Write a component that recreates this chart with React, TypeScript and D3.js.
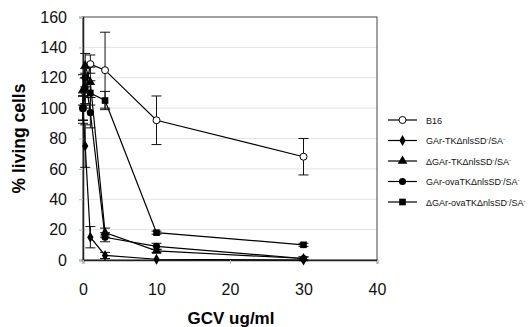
import React, { useEffect, useRef } from 'react'
import * as d3 from 'd3'

// dose of GCV (ug/ml)
const doses = [0, 0.3, 1, 3, 10, 30]

const seriesNames = ['B16', 'GAr-TK', 'ΔGAr-TK', 'GAr-ovaTK', 'ΔGAr-ovaTK']
const symbols = ['openCircle', 'diamond', 'triangle', 'circle', 'square']

const b16 = [100, 110, 129, 125, 92, 68]
const b16Err = [8, 10, 6, 25, 16, 12]
const garTk = [100, 75, 15, 3, 0.5, 0]
const garTkErr = [10, 14, 7, 2, 0, 0]
const dGarTk = [112, 128, 117, 18, 6, 1]
const dGarTkErr = [10, 8, 10, 3, 1, 1]
const garOva = [100, 120, 97, 15, 9, 1]
const garOvaErr = [8, 6, 10, 3, 2, 1]
const dGarOva = [100, 113, 110, 105, 18, 10]
const dGarOvaErr = [8, 10, 8, 6, 1, 1]

const yTicks = [0, 20, 40, 60, 80, 100, 120, 140, 160]
const xTicks = [0, 10, 20, 30, 40]

export default function App() {
  const ref = useRef<SVGSVGElement>(null)

  useEffect(() => {
    const width = 531
    const height = 327
    const margin = { top: 17, right: 154, bottom: 67, left: 83 }
    const svg = d3.select(ref.current)
    svg.selectAll('*').remove()

    const x = d3.scaleLinear().domain([0, 40]).range([margin.left, width - margin.right])
    const y = d3.scaleLinear().domain([0, 160]).range([height - margin.bottom, margin.top])
    const font = 'Liberation Sans, Arial, sans-serif'

    // gridlines
    svg.append('g').selectAll('line').data(yTicks.slice(1, -1)).join('line')
      .attr('x1', x(0)).attr('x2', x(40))
      .attr('y1', d => y(d)).attr('y2', d => y(d))
      .attr('stroke', '#e2e2e2').attr('stroke-width', 1)

    // plot border
    svg.append('rect')
      .attr('x', x(0)).attr('y', y(160))
      .attr('width', x(40) - x(0)).attr('height', y(0) - y(160))
      .attr('fill', 'none').attr('stroke', '#444').attr('stroke-width', 1)

    // axes
    const yAxis = svg.append('g').attr('transform', `translate(${x(0)},0)`)
      .call(d3.axisLeft(y).tickValues(yTicks).tickSize(4).tickPadding(12))
    const xAxis = svg.append('g').attr('transform', `translate(0,${y(0)})`)
      .call(d3.axisBottom(x).tickValues(xTicks).tickSize(4).tickPadding(20))
    for (const ax of [yAxis, xAxis]) {
      ax.select('.domain').attr('stroke', '#222').attr('stroke-width', 1.5)
      ax.selectAll('.tick line').attr('stroke', '#bbb')
      ax.selectAll('text').attr('font-family', font).attr('font-size', 16).attr('fill', '#111')
    }

    svg.append('text')
      .attr('transform', `translate(25,${(y(0) + y(160)) / 2}) rotate(-90)`)
      .attr('text-anchor', 'middle')
      .attr('font-family', font).attr('font-size', 17.5).attr('font-weight', 'bold')
      .text('% living cells')
    svg.append('text')
      .attr('x', (x(0) + x(40)) / 2 + 1).attr('y', 324)
      .attr('text-anchor', 'middle')
      .attr('font-family', font).attr('font-size', 17).attr('font-weight', 'bold')
      .text('GCV ug/ml')

    const data = [
      { vals: b16, errs: b16Err },
      { vals: garTk, errs: garTkErr },
      { vals: dGarTk, errs: dGarTkErr },
      { vals: garOva, errs: garOvaErr },
      { vals: dGarOva, errs: dGarOvaErr },
    ]

    const drawSymbol = (g: any, kind: string, cx: number, cy: number) => {
      if (kind === 'openCircle') {
        g.append('circle').attr('cx', cx).attr('cy', cy).attr('r', 3.5)
          .attr('fill', 'white').attr('stroke', 'black').attr('stroke-width', 1)
      } else {
        const type = kind === 'diamond' ? d3.symbolDiamond : kind === 'triangle' ? d3.symbolTriangle
          : kind === 'square' ? d3.symbolSquare : d3.symbolCircle
        const size = kind === 'diamond' ? 34 : kind === 'triangle' ? 40 : kind === 'square' ? 44 : 40
        g.append('path').attr('d', d3.symbol(type, size)())
          .attr('transform', `translate(${cx},${cy})`).attr('fill', 'black')
      }
    }

    const line = d3.line<number>().x((_, i) => x(doses[i])).y(d => y(d))

    data.forEach((s, si) => {
      const g = svg.append('g')
      s.vals.forEach((v, i) => {
        const e = s.errs[i]
        if (e <= 0) return
        const cx = x(doses[i])
        g.append('line').attr('x1', cx).attr('x2', cx).attr('y1', y(v - e)).attr('y2', y(v + e))
          .attr('stroke', '#111').attr('stroke-width', 1)
        for (const yy of [v - e, v + e]) {
          g.append('line').attr('x1', cx - 5).attr('x2', cx + 5).attr('y1', y(yy)).attr('y2', y(yy))
            .attr('stroke', '#111').attr('stroke-width', 1)
        }
      })
      g.append('path').attr('d', line(s.vals)).attr('fill', 'none')
        .attr('stroke', 'black').attr('stroke-width', 1.2)
      s.vals.forEach((v, i) => drawSymbol(g, symbols[si], x(doses[i]), y(v)))
    })

    // legend
    const leg = svg.append('g')
    seriesNames.forEach((name, i) => {
      const ly = 120 + i * 20.5
      leg.append('line').attr('x1', 388).attr('x2', 417).attr('y1', ly).attr('y2', ly)
        .attr('stroke', 'black').attr('stroke-width', 1.2)
      drawSymbol(leg, symbols[i], 402.5, ly)
      const t = leg.append('text').attr('x', 426).attr('y', ly + 3.5)
        .attr('font-family', font).attr('font-size', 9).attr('fill', '#111')
      if (i === 0) {
        t.text(name)
      } else {
        t.append('tspan').text(name + 'ΔnlsSD')
        t.append('tspan').attr('font-size', 6).attr('dy', -3).text('-')
        t.append('tspan').attr('dy', 3).text('/SA')
        t.append('tspan').attr('font-size', 6).attr('dy', -3).text('-')
      }
    })
  }, [])

  return (
    <div style={{ position: 'absolute', left: 0, top: 0 }}>
      <svg ref={ref} width={531} height={327} style={{ display: 'block', background: 'white' }}></svg>
    </div>
  )
}
